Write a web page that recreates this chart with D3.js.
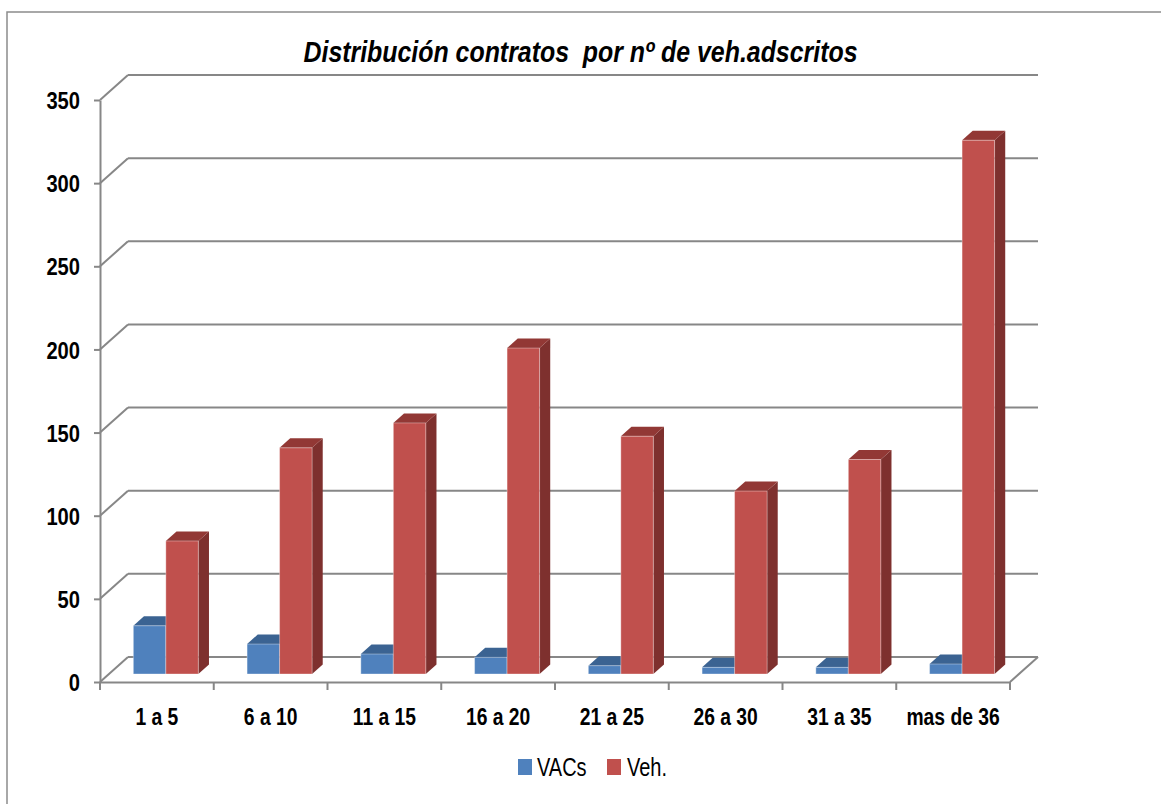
<!DOCTYPE html>
<html>
<head>
<meta charset="utf-8">
<script src="https://cdn.jsdelivr.net/npm/d3@7/dist/d3.min.js"></script>
<style>
  html, body { margin: 0; padding: 0; background: #ffffff; }
  svg { display: block; }
  .lbl { font-family: 'Liberation Sans Narrow', 'Liberation Sans', Arial, sans-serif; white-space: pre; }
</style>
</head>
<body>
<svg id="chart" width="1161" height="804"></svg>
<script>
// ---- data ----
const categories = ["1 a 5", "6 a 10", "11 a 15", "16 a 20", "21 a 25", "26 a 30", "31 a 35", "mas de 36"];
const seriesNames = ["VACs", "Veh."];
const vacs = [29, 18, 12, 10, 5, 4, 4, 6];
const veh = [80, 136, 151, 196, 143, 110, 129, 321];
const yTicks = [0, 50, 100, 150, 200, 250, 300, 350];
const title = "Distribución contratos  por nº de veh.adscritos";

// ---- layout ----
const W = 1161, H = 804;
const plotLeft = 100, plotRight = 1010, plotBottom = 682, plotTop = 100;
const DX = 28, DY = -25;          // wall depth offset
const zFront = 0.32, zBack = 0.70; // bar depth positions
const squeeze = 0.84;              // horizontal condensing of label text
const colors = {
  VACs: { front: "#4F81BD", top: "#3B6392", side: "#2F4F75" },
  "Veh.": { front: "#C0504D", top: "#923835", side: "#7E302E" }
};
const gridColor = "#878787";

const svg = d3.select("#chart");

// outer border (top & left visible)
svg.append("rect").attr("x", 7).attr("y", 12).attr("width", 1300).attr("height", 1000)
  .attr("fill", "none").attr("stroke", "#8c8c8c").attr("stroke-width", 1.5);

const x = d3.scaleBand().domain(categories).range([plotLeft, plotRight]).paddingInner(0).paddingOuter(0);
const y = d3.scaleLinear().domain([0, 350]).range([plotBottom, plotTop]);
const sub = d3.scaleBand().domain(seriesNames).range([0, x.bandwidth()]).paddingInner(0).paddingOuter(0.75);

// project point at depth z
const P = (px, py, z) => [px + DX * z, py + DY * z];

const walls = svg.append("g");
yTicks.forEach(t => {
  const yy = y(t);
  const b0 = P(plotLeft, yy, 1), b1 = P(plotRight, yy, 1);
  walls.append("line").attr("x1", b0[0]).attr("y1", b0[1]).attr("x2", b1[0]).attr("y2", b1[1])
    .attr("stroke", gridColor).attr("stroke-width", 2);
  walls.append("line").attr("x1", plotLeft).attr("y1", yy).attr("x2", b0[0]).attr("y2", b0[1])
    .attr("stroke", gridColor).attr("stroke-width", 2);
});
{
  const a = P(plotRight, y(0), 0), b = P(plotRight, y(0), 1);
  walls.append("line").attr("x1", a[0]).attr("y1", a[1]).attr("x2", b[0]).attr("y2", b[1])
    .attr("stroke", gridColor).attr("stroke-width", 2);
}

// y axis
const yAxis = d3.axisLeft(y).tickValues(yTicks).tickSize(6).tickSizeOuter(0);
const gy = svg.append("g").attr("transform", `translate(${plotLeft},0)`).call(yAxis);
gy.select(".domain").attr("stroke", gridColor).attr("stroke-width", 2);
gy.selectAll(".tick line").attr("stroke", gridColor).attr("stroke-width", 2);
gy.selectAll(".tick text").attr("class", "lbl").attr("fill", "#000").attr("font-size", 24)
  .attr("font-weight", "bold").attr("dy", "0.36em")
  .attr("x", -20 / squeeze).attr("transform", `scale(${squeeze},1)`);

// x axis
const xAxis = d3.axisBottom(x).tickSize(0).tickPadding(27).tickSizeOuter(0);
const gx = svg.append("g").attr("transform", `translate(0,${plotBottom})`).call(xAxis);
gx.select(".domain").attr("stroke", gridColor).attr("stroke-width", 2);
gx.selectAll(".tick text").attr("class", "lbl").attr("fill", "#000").attr("font-size", 23)
  .attr("font-weight", "bold").attr("transform", `scale(${squeeze},1)`);
const seps = categories.map(c => x(c)).concat([plotRight]);
gx.selectAll("line.sep").data(seps).enter().append("line").attr("class", "sep")
  .attr("x1", d => d).attr("x2", d => d).attr("y1", 0).attr("y2", 8)
  .attr("stroke", gridColor).attr("stroke-width", 2);

// bars
const barsG = svg.append("g");
const poly = pts => pts.map(p => p.join(",")).join(" ");
const values = { VACs: vacs, "Veh.": veh };
categories.forEach((c, i) => {
  seriesNames.forEach(s => {
    const v = values[s][i];
    const x0 = x(c) + sub(s), x1 = x0 + sub.bandwidth();
    const yb = y(0), yt = y(v);
    const col = colors[s];
    const f = [P(x0, yt, zFront), P(x1, yt, zFront), P(x1, yb, zFront), P(x0, yb, zFront)];
    const tp = [P(x0, yt, zFront), P(x0, yt, zBack), P(x1, yt, zBack), P(x1, yt, zFront)];
    const sd = [P(x1, yt, zFront), P(x1, yt, zBack), P(x1, yb, zBack), P(x1, yb, zFront)];
    barsG.append("polygon").attr("points", poly(sd)).attr("fill", col.side);
    barsG.append("polygon").attr("points", poly(tp)).attr("fill", col.top);
    barsG.append("polygon").attr("points", poly(f)).attr("fill", col.front)
      .attr("stroke", "rgba(255,255,255,0.35)").attr("stroke-width", 1);
  });
});

// title
svg.append("text").attr("class", "lbl").attr("x", W / 2).attr("y", 62)
  .attr("text-anchor", "middle").attr("font-size", 29).attr("font-weight", "bold")
  .attr("font-style", "italic").attr("fill", "#000")
  .attr("textLength", 554).attr("lengthAdjust", "spacingAndGlyphs")
  .text(title);

// legend
const legend = svg.append("g");
const legendItems = [{ name: "VACs", x: 518, tx: 537 }, { name: "Veh.", x: 607, tx: 627 }];
legendItems.forEach(it => {
  legend.append("rect").attr("x", it.x).attr("y", 759).attr("width", 14).attr("height", 16)
    .attr("fill", colors[it.name].front);
  legend.append("text").attr("class", "lbl")
    .attr("transform", `translate(${it.tx},776) scale(0.8,1)`)
    .attr("font-size", 25).attr("fill", "#000").text(it.name);
});
</script>
</body>
</html>
